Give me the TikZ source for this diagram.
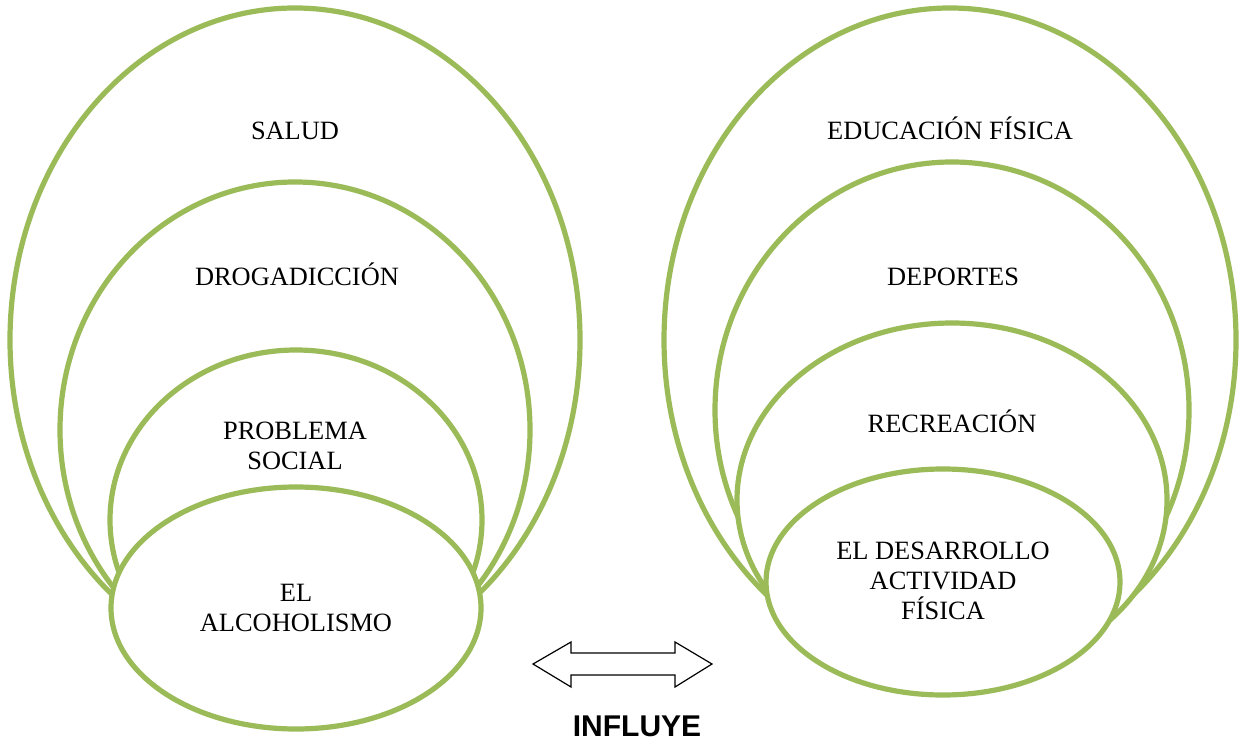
\documentclass[tikz,border=0pt]{standalone}
\usepackage{fontspec}
\setmainfont{Liberation Serif}
\newfontfamily\arialfont{Liberation Sans}
\usepackage{tikz}
\definecolor{verdeanillo}{HTML}{9BBB59}

\begin{document}
\begin{tikzpicture}[x=0.5pt,y=-0.5pt,
    anillo/.style={draw=verdeanillo, line width=2.6pt, fill=white},
    rotulo/.style={align=center, inner sep=0pt, font=\fontsize{13.2}{15}\selectfont}]
    \useasboundingbox (0,0) rectangle (1245,742);
    % Anillos de la izquierda
    \draw[anillo] (295,340) ellipse [x radius=285, y radius=332];
    \draw[anillo] (295,430) ellipse [x radius=235, y radius=248];
    \draw[anillo] (296,520) ellipse [x radius=186, y radius=170];
    \draw[anillo] (296,608) ellipse [x radius=185, y radius=121];
    \node[rotulo, anchor=base] (salud) at (295,140) {SALUD};
    \node[rotulo, anchor=base] (droga) at (297,286) {DROGADICCIÓN};
    \node[rotulo] (problema) at (295,446) {PROBLEMA\\SOCIAL};
    \node[rotulo] (alcohol) at (296,608) {EL\\ALCOHOLISMO};
    % Anillos de la derecha
    \draw[anillo] (950,340) ellipse [x radius=286, y radius=332];
    \draw[anillo] (952,410) ellipse [x radius=237, y radius=248];
    \draw[anillo] (952,500) ellipse [x radius=215, y radius=177];
    \draw[anillo] (943,582) ellipse [x radius=177, y radius=113];
    \node[rotulo, anchor=base] (educacion) at (950,140) {EDUCACIÓN FÍSICA};
    \node[rotulo, anchor=base] (deportes) at (953,286) {DEPORTES};
    \node[rotulo, anchor=base] (recreacion) at (952,432) {RECREACIÓN};
    \node[rotulo] (desarrollo) at (943,581) {EL DESARROLLO\\ACTIVIDAD\\FÍSICA};
    % Flecha doble
    \draw[line width=0.6pt, fill=white] (533,664) -- (571,642) -- (571,653) -- (675,653)
        -- (675,642) -- (712,664) -- (675,687) -- (675,675) -- (571,675)
        -- (571,687) -- cycle;
    \node[inner sep=0pt, anchor=base, font=\arialfont\bfseries\fontsize{15}{18}\selectfont]
        (influye) at (637,736) {INFLUYE};
\end{tikzpicture}
\end{document}
